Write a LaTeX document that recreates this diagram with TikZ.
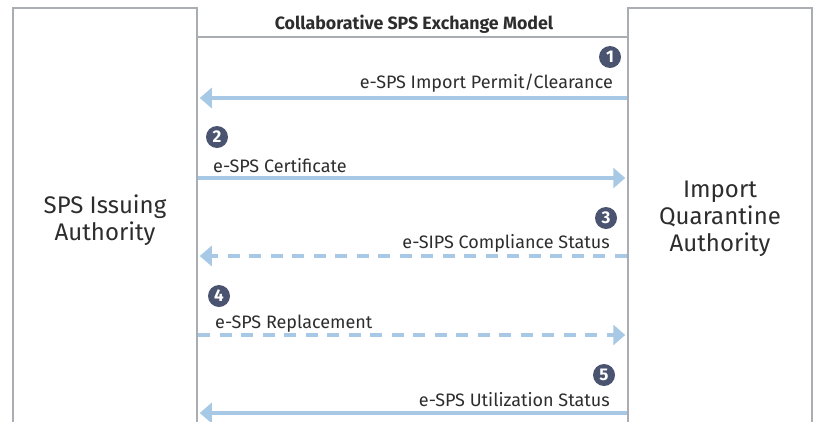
\documentclass[tikz,border=0pt]{standalone}
\usepackage{fontspec}
\setmainfont{Fira Sans}
\usetikzlibrary{arrows.meta}
\definecolor{boxgray}{RGB}{170,173,177}
\definecolor{arrblue}{RGB}{168,201,229}
\definecolor{numfill}{RGB}{74,84,112}
\definecolor{txt}{RGB}{45,45,45}
\tikzset{
  box/.style={draw=boxgray, line width=2.5pt, minimum width=184pt, minimum height=422pt, inner sep=0pt},
  arr/.style={draw=arrblue, line width=4.5pt, -{Triangle[length=12pt,width=20pt]}, shorten >=1.5pt},
  dasharr/.style={arr, dash pattern=on 12pt off 9.5pt},
  lab/.style={font=\fontsize{18}{20}\selectfont, text=txt, inner sep=0pt},
  big/.style={font=\fontsize{24}{27}\selectfont, text=txt, inner sep=0pt, align=center},
  num/.style={circle, fill=numfill, text=white, minimum size=22pt, inner sep=0pt, font=\fontsize{17}{17}\selectfont\bfseries}
}
\begin{document}
\begin{tikzpicture}[x=1pt,y=-1pt]
\useasboundingbox (0,0) rectangle (816,421);
\node[box] (L) at (105,219) {};
\node[box] (R) at (720,219) {};
\draw[draw=boxgray, line width=2.5pt] (L.east |- 0,37) -- (R.west |- 0,37);
\node[font=\fontsize{17.8}{20}\selectfont\bfseries, text=txt, inner sep=0pt, anchor=base] (title) at (414,29) {Collaborative SPS Exchange Model};
\node[big, anchor=base] (l1) at (105,213) {SPS Issuing};
\node[big, anchor=base] (l2) at (105,240) {Authority};
\node[big, anchor=base] (r1) at (720,197) {Import};
\node[big, anchor=base] (r2) at (720,224) {Quarantine};
\node[big, anchor=base] (r3) at (720,251) {Authority};
% 1
\node[num] (n1) at (610,57) {1};
\node[lab, anchor=base east] (t1) at (613,88) {e-SPS Import Permit/Clearance};
\draw[arr] (R.west |- 0,98) -- (L.east |- 0,98);
% 2
\node[num] (n2) at (217,137) {2};
\node[lab, anchor=base west] (t2) at (213,172) {e-SPS Certificate};
\draw[arr] (L.east |- 0,178) -- (R.west |- 0,178);
% 3
\node[num] (n3) at (606,218) {3};
\node[lab, anchor=base east] (t3) at (610,248) {e-SIPS Compliance Status};
\draw[dasharr] (R.west |- 0,256) -- (L.east |- 0,256);
% 4
\node[num] (n4) at (219,296) {4};
\node[lab, anchor=base west] (t4) at (215,328) {e-SPS Replacement};
\draw[dasharr] (L.east |- 0,335) -- (R.west |- 0,335);
% 5
\node[num] (n5) at (604,375) {5};
\node[lab, anchor=base east] (t5) at (610,406) {e-SPS Utilization Status};
\draw[arr] (R.west |- 0,413) -- (L.east |- 0,413);
\end{tikzpicture}
\end{document}
